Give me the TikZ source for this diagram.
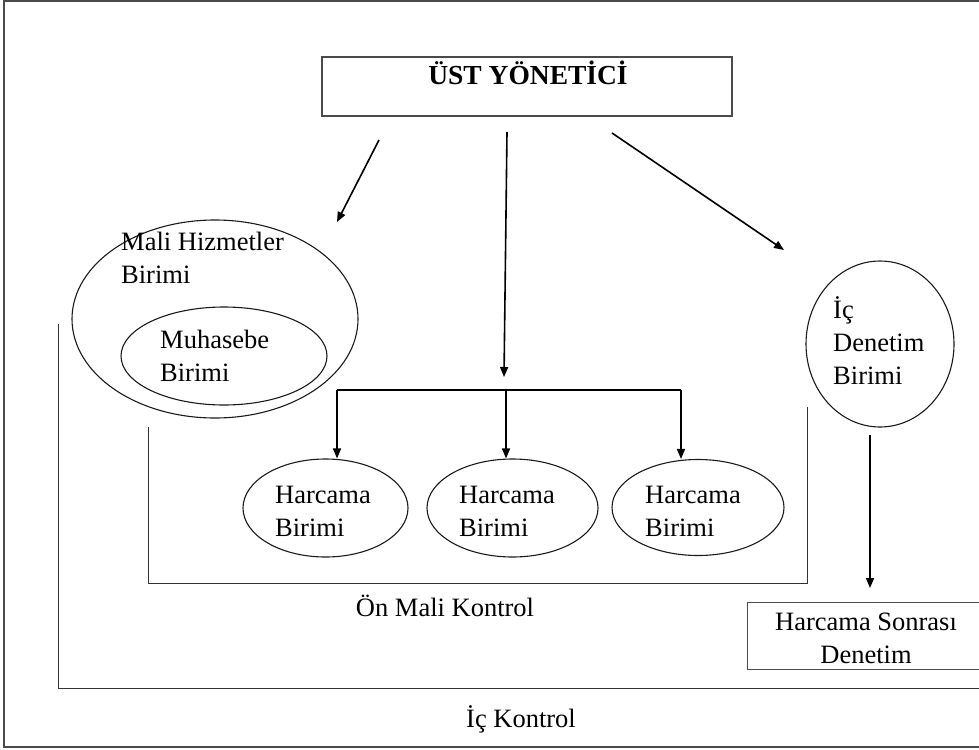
\documentclass[tikz,border=0pt]{standalone}
\usepackage{fontspec}
\setmainfont{Liberation Serif}
\usetikzlibrary{arrows.meta,shapes.geometric}
\newcommand{\bodyfont}{\fontsize{26.5}{33}\selectfont}
\newcommand{\headfont}{\fontsize{27.5}{32}\selectfont\bfseries}
\definecolor{ink}{HTML}{1A1A1A}
\definecolor{rulec}{HTML}{333333}
\definecolor{boxc}{HTML}{4A4A4A}

\begin{document}
\begin{tikzpicture}[x=1pt,y=-1pt,
  every node/.style={inner sep=0pt},
  oval/.style={draw=ink, line width=1.1pt, ellipse},
  txt/.style={anchor=north west, align=left, font=\bodyfont},
  lbl/.style={anchor=base, font=\bodyfont},
  conn/.style={draw=black, line width=1.6pt, -{Triangle[length=10pt,width=8pt]}},
  rule/.style={draw=rulec, line width=1pt},
  frame/.style={draw=boxc, line width=1.5pt},
  panel/.style={draw=boxc, line width=1.2pt},
]
\useasboundingbox (0,0) rectangle (979,749);

% outer frame (open on the right)
\draw[frame] (979,1) -- (4,1) -- (4,747) -- (979,747);

% top management box
\node[panel, minimum width=410pt, minimum height=59pt] (ust) at (527,86.5) {};
\node[anchor=base, font=\headfont] (usttext) at (528,85) {ÜST YÖNETİCİ};

% financial services unit with accounting unit inside
\node[oval, minimum width=286pt, minimum height=198pt] (mali) at (215,319) {};
\node[txt] (malitext) at (121,226.9) {\strut Mali Hizmetler\\\strut Birimi};
\node[oval, minimum width=206pt, minimum height=98pt] (muh) at (224,356) {};
\node[txt] (muhtext) at (160,324.9) {\strut Muhasebe\\\strut Birimi};

% spending units
\node[oval, minimum width=165pt, minimum height=98pt] (h1) at (325.5,508) {};
\node[oval, minimum width=171pt, minimum height=98pt] (h2) at (512.5,508) {};
\node[oval, minimum width=172pt, minimum height=96pt] (h3) at (698,507.5) {};
\node[txt] (h1text) at (275,479.9) {\strut Harcama\\\strut Birimi};
\node[txt] (h2text) at (459,479.9) {\strut Harcama\\\strut Birimi};
\node[txt] (h3text) at (645,479.9) {\strut Harcama\\\strut Birimi};

% internal audit unit
\node[oval, minimum width=148pt, minimum height=166pt] (ic) at (880,344) {};
\node[txt] (ictext) at (833,294.9) {\strut İç\\\strut Denetim\\\strut Birimi};

% post-spending audit box (runs off the right edge)
\node[panel, line width=1pt, minimum width=238pt, minimum height=67pt] (hs) at (866,635.5) {};
\node[anchor=north, align=center, font=\bodyfont] (hstext) at (866,606.9)
  {\strut Harcama Sonrası\\\strut Denetim};

% arrow end points
\coordinate (a1s) at (379,140);
\coordinate (a1e) at (337,222);
\coordinate (a2s) at (507,132);
\coordinate (a2e) at (504,377);
\coordinate (a3s) at (612,133);
\coordinate (a3e) at (784,250);
\coordinate (j1) at (337,390);
\coordinate (j2) at (506,390);
\coordinate (j3) at (681,390);
\coordinate (d1) at (870,435);
\coordinate (d2) at (870,588);

\draw[conn] (a1s) -- (a1e);
\draw[conn] (a2s) -- (a2e);
\draw[conn] (a3s) -- (a3e);
\draw[draw=black, line width=1.4pt] (j1) -- (j3);
\draw[conn] (j1) -- (j1 |- h1.north);
\draw[conn] (j2) -- (j2 |- h2.north);
\draw[conn] (j3) -- (j3 |- h3.north);
\draw[conn] (d1) -- (d2);

% control brackets
\draw[rule] (148,427) |- (807,583) -- (807,407);
\node[lbl] (onmali) at (445,616) {Ön Mali Kontrol};
\draw[rule] (58,324) |- (979,688);
\node[lbl] (ickontrol) at (521,727) {İç Kontrol};
\end{tikzpicture}
\end{document}
